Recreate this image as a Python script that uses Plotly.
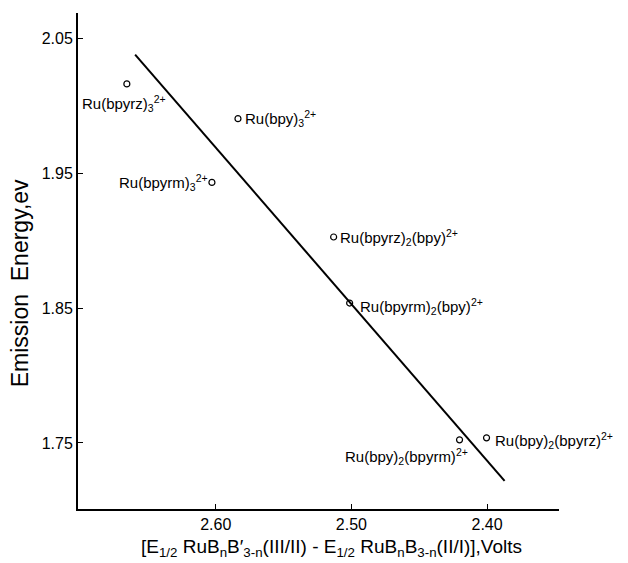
import plotly.graph_objects as go

# ---- data ----
complex_labels = [
    "Ru(bpyrz)<sub>3</sub><sup>2+</sup>",
    "Ru(bpy)<sub>3</sub><sup>2+</sup>",
    "Ru(bpyrm)<sub>3</sub><sup>2+</sup>",
    "Ru(bpyrz)<sub>2</sub>(bpy)<sup>2+</sup>",
    "Ru(bpyrm)<sub>2</sub>(bpy)<sup>2+</sup>",
    "Ru(bpy)<sub>2</sub>(bpyrm)<sup>2+</sup>",
    "Ru(bpy)<sub>2</sub>(bpyrz)<sup>2+</sup>",
]
delta_e_volts = [2.6655, 2.5836, 2.6028, 2.5131, 2.5013, 2.4203, 2.4004]
emission_ev = [2.0164, 1.9906, 1.9433, 1.9028, 1.8538, 1.7523, 1.7538]

fit_x = [2.6594, 2.3871]
fit_y = [2.0381, 1.7219]

x_ticks = [2.60, 2.50, 2.40]
y_ticks = [1.75, 1.85, 1.95, 2.05]

# label placement (pixels relative to point)
label_anchor = ["left", "left", "right", "left", "left", "right", "left"]
label_dx = [-47, 5, -2, 4, 8, 10, 6]
label_dy = [-20, 0, 0, 0, -3, -17, -3]

FONT = "Liberation Sans, Arial, sans-serif"

fig = go.Figure()
fig.add_trace(go.Scatter(
    x=fit_x, y=fit_y, mode="lines",
    line=dict(color="black", width=2), showlegend=False, hoverinfo="skip"))
fig.add_trace(go.Scatter(
    x=delta_e_volts, y=emission_ev, mode="markers",
    marker=dict(symbol="circle-open", size=6, color="black", line=dict(width=1.2)),
    showlegend=False))

for lab, x, y, anc, dx, dy in zip(complex_labels, delta_e_volts, emission_ev,
                                  label_anchor, label_dx, label_dy):
    fig.add_annotation(x=x, y=y, text=lab, showarrow=False, xanchor=anc,
                       yanchor="middle", xshift=dx, yshift=dy,
                       font=dict(family=FONT, size=15, color="black"))

fig.add_annotation(
    xref="paper", yref="paper", x=0.528, y=0, yanchor="top", yshift=-25,
    showarrow=False,
    text="[E<sub>1/2</sub> RuB<sub>n</sub>B′<sub>3-n</sub>(III/II) - "
         "E<sub>1/2</sub> RuB<sub>n</sub>B<sub>3-n</sub>(II/I)],Volts",
    font=dict(family=FONT, size=19, color="black"))
fig.add_annotation(
    xref="paper", yref="paper", x=0, y=0.455, xanchor="center", yanchor="middle",
    xshift=-58, textangle=-90, showarrow=False,
    text="Emission  Energy,ev",
    font=dict(family=FONT, size=23, color="black"))

fig.update_xaxes(
    range=[2.7015, 2.347], tickvals=x_ticks, ticktext=[f"{v:.2f}" for v in x_ticks],
    ticks="inside", ticklen=5, tickwidth=1, tickcolor="black",
    showline=True, linecolor="black", linewidth=2, showgrid=False, zeroline=False,
    tickfont=dict(family=FONT, size=16, color="black"))
fig.update_yaxes(
    range=[1.701, 2.069], tickvals=y_ticks, ticktext=[f"{v:.2f}" for v in y_ticks],
    ticks="inside", ticklen=5, tickwidth=1, tickcolor="black",
    showline=True, linecolor="black", linewidth=2, showgrid=False, zeroline=False,
    tickfont=dict(family=FONT, size=16, color="black"))

fig.update_layout(
    width=628, height=563,
    margin=dict(l=78, r=69, t=13, b=54),
    paper_bgcolor="white", plot_bgcolor="white",
    font=dict(family=FONT, color="black"),
)

fig.write_html("out.html")
